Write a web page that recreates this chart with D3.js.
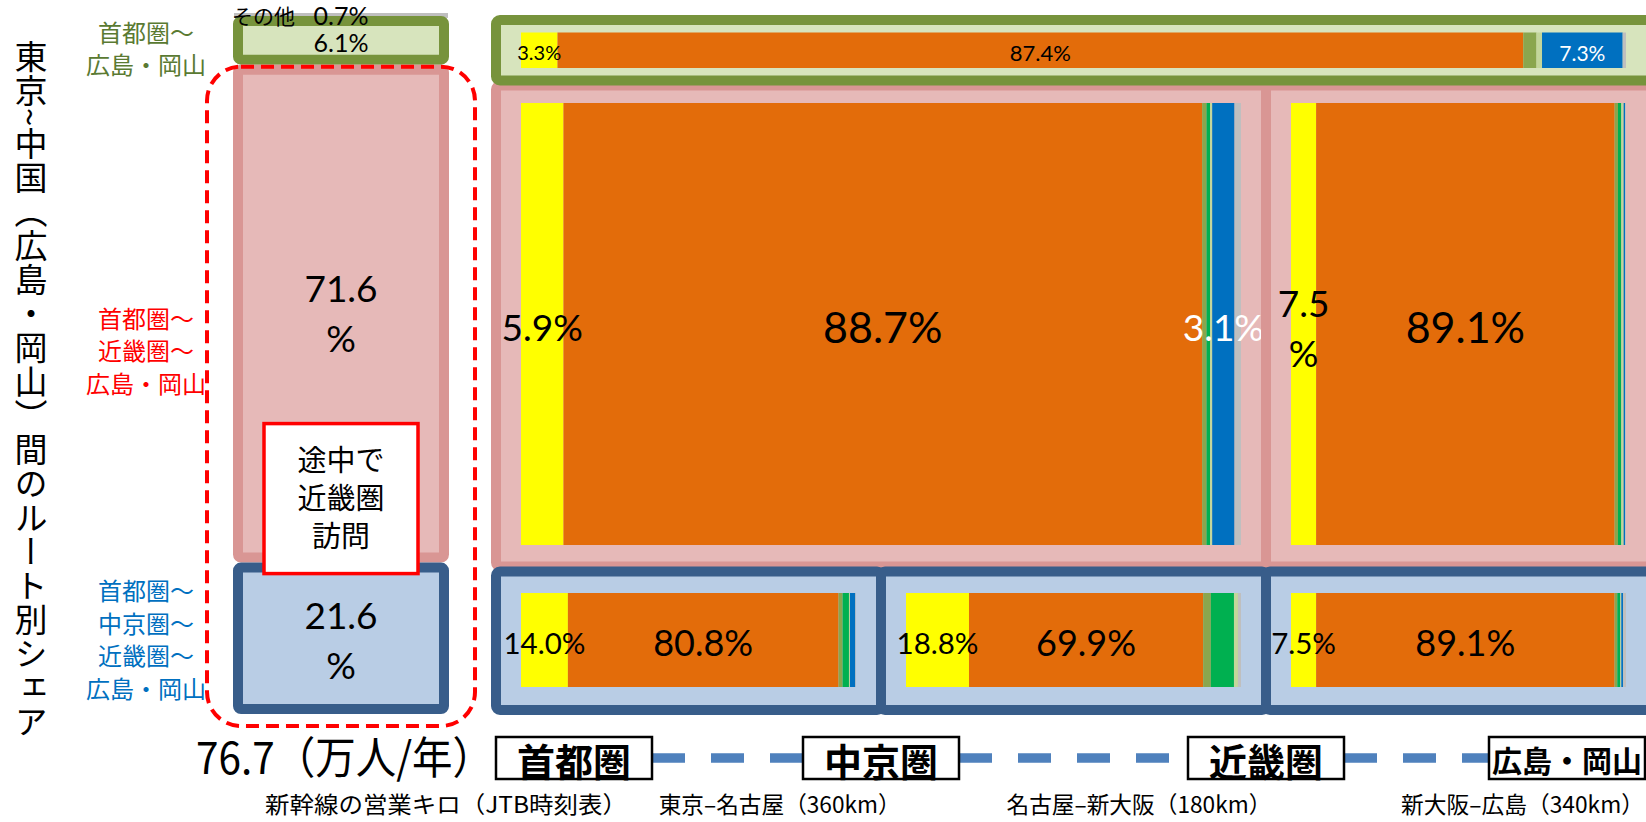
<!DOCTYPE html>
<html><head><meta charset="utf-8">
<script src="https://cdn.jsdelivr.net/npm/d3@7"></script>
<style>body{margin:0;background:#fff} svg{display:block}</style>
</head><body><svg id="c" width="1646" height="822"></svg>
<script>
// ---------------- data ----------------
const modeKeys = ["A","B","C","D","E","F","G"];           // transport modes (stack order)
const routeNames = [["首都圏～","広島・岡山"],["首都圏～","近畿圏～","広島・岡山"],["首都圏～","中京圏～","近畿圏～","広島・岡山"]];
const routeShares = [6.1, 71.6, 21.6];                     // % of trips by route
const otherShare = 0.7;                                    // その他
const otherLabel = "その他";
const totalTrips = "76.7（万人/年）";
const regionNames = ["首都圏","中京圏","近畿圏","広島・岡山"];
const legLabels = ["東京‒名古屋（360km）","名古屋‒新大阪（180km）","新大阪‒広島（340km）"];
const legNote = "新幹線の営業キロ（JTB時刻表）";
const viaNote = ["途中で","近畿圏","訪問"];
const titleText = "東京~中国（広島・岡山）間のルート別シェア";
// mode shares (%) of each route leg
const directShares  = [3.3, 87.4, 1.2, 0.0, 0.5, 7.3, 0.3];
const viaKinkiLeg1  = [5.9, 88.7, 0.6, 0.5, 0.3, 3.1, 0.9];
const viaKinkiLeg2  = [7.5, 89.1, 1.0, 1.0, 0.7, 0.4, 0.3];
const viaChukyoLeg1 = [14.0, 80.8, 1.2, 1.9, 0.3, 1.6, 0.2];
const viaChukyoLeg2 = [18.8, 69.9, 2.3, 6.9, 1.2, 0.0, 0.9];
const viaChukyoLeg3 = [7.5, 89.1, 0.8, 0.9, 0.3, 0.5, 0.9];

// ---------------- setup ----------------
const W = 1646, H = 822;
const svg = d3.select("#c");
const JP = "'Noto Sans CJK JP', sans-serif";
const NUM = "Lato, 'Noto Sans CJK JP', sans-serif";
const modeColor = d3.scaleOrdinal(modeKeys, ["#FFFF00","#E36C0A","#8AA64E","#00B050","#C3D69B","#0070C0","#BFBFBF"]);
const routeFill = d3.scaleOrdinal([0,1,2], ["#D7E4BD","#E6B9B8","#B9CDE5"]);
const routeStroke = d3.scaleOrdinal([0,1,2], ["#77933C","#D99694","#385D8A"]);
const routeText = d3.scaleOrdinal([0,1,2], ["#5A7A32","#FF0000","#0070C0"]);
const pct = v => d3.format(".1f")(v) + "%";

// ---------------- left stacked column ----------------
const colX0 = 233, colX1 = 449, colCx = (colX0 + colX1) / 2;
const yL = d3.scaleLinear([0, 100], [13, 714]);
const stackVals = [otherShare, ...routeShares];
const cum = d3.cumsum(stackVals);
const segs = stackVals.map((v, i) => ({v, i, y0: yL(cum[i] - v), y1: yL(cum[i])}));

// gray "other"
svg.append("rect").attr("x", colX0 + 1).attr("width", colX1 - colX0 - 2)
  .attr("y", segs[0].y0).attr("height", segs[0].y1 - segs[0].y0).attr("fill", modeColor("G"));

const routeSegs = segs.slice(1).map((s, r) => ({...s, r}));
// the thin top segment is drawn slightly enlarged, as in the source figure
const grow = [[-2, 4], [4, 0], [0, 0]];
svg.append("g").selectAll("rect").data(routeSegs).join("rect")
  .attr("x", colX0 + 5).attr("width", colX1 - colX0 - 10)
  .attr("y", d => d.y0 + 5 + grow[d.r][0]).attr("height", d => d.y1 - d.y0 - 10 - grow[d.r][0] + grow[d.r][1])
  .attr("rx", 3)
  .attr("fill", d => routeFill(d.r)).attr("stroke", d => routeStroke(d.r)).attr("stroke-width", 10);

// white box "途中で近畿圏訪問"
const pinkSeg = routeSegs[1], blueSeg = routeSegs[2];
svg.append("rect").attr("x", colCx - 77).attr("width", 154)
  .attr("y", blueSeg.y0 - 139).attr("height", 150)
  .attr("fill", "#fff").attr("stroke", "#FF0000").attr("stroke-width", 3.5);
svg.append("g").selectAll("text").data(viaNote).join("text")
  .attr("x", colCx).attr("y", (d, i) => blueSeg.y0 - 105 + i * 38)
  .attr("text-anchor", "middle").attr("dominant-baseline", "central")
  .attr("font-family", JP).attr("font-size", 29).attr("fill", "#000").text(d => d);

// red dashed rounded outline
svg.append("rect").attr("x", colX0 - 26).attr("width", colX1 - colX0 + 52)
  .attr("y", pinkSeg.y0 + 6).attr("height", yL(100) + 12 - pinkSeg.y0 - 6)
  .attr("rx", 34).attr("fill", "none").attr("stroke", "#FF0000")
  .attr("stroke-width", 4).attr("stroke-dasharray", "13 7");

// column value labels
svg.append("text").attr("x", colX0 - 1).attr("y", segs[0].y0 + 2)
  .attr("dominant-baseline", "central").attr("font-family", JP).attr("font-size", 21).text(otherLabel);
svg.append("text").attr("x", colCx).attr("y", segs[0].y0 + 2)
  .attr("text-anchor", "middle").attr("dominant-baseline", "central")
  .attr("font-family", NUM).attr("font-size", 25).text(pct(otherShare));
svg.append("text").attr("x", colCx).attr("y", (routeSegs[0].y0 + routeSegs[0].y1) / 2 + 3)
  .attr("text-anchor", "middle").attr("dominant-baseline", "central")
  .attr("font-family", NUM).attr("font-size", 25).text(pct(routeShares[0]));
[pinkSeg, blueSeg].forEach(s => {
  const mid = (s.y0 + s.y1) / 2;
  const g = svg.append("g").attr("font-family", NUM).attr("font-size", 37).attr("text-anchor", "middle");
  g.append("text").attr("x", colCx).attr("y", mid - 24).attr("dominant-baseline", "central").text(d3.format(".1f")(s.v));
  g.append("text").attr("x", colCx).attr("y", mid + 26).attr("dominant-baseline", "central").text("%");
});

// route labels (left)
const labelOffsets = [8, 38, 0];
routeSegs.forEach(s => {
  const lines = routeNames[s.r];
  const mid = (s.y0 + s.y1) / 2 + labelOffsets[s.r];
  svg.append("g").selectAll("text").data(lines).join("text")
    .attr("x", 146).attr("y", (d, i) => mid + (i - (lines.length - 1) / 2) * 32.5)
    .attr("text-anchor", "middle").attr("dominant-baseline", "central")
    .attr("font-family", JP).attr("font-size", 24).attr("fill", routeText(s.r)).text(d => d);
});

// vertical title
svg.append("text").attr("x", 31).attr("y", 40)
  .attr("style", "writing-mode: vertical-rl; text-orientation: mixed; letter-spacing: 1px;")
  .attr("font-family", JP).attr("font-size", 33).attr("fill", "#000").text(titleText);

// ---------------- right mosaic ----------------
const xLeg = d3.scaleLinear([0, 3], [496, 1651]);
const yRow = d3.scaleLinear([0, 1, 2, 3], [20, 83, 569, 710]);
const rowPad = [[12.5, 12.5], [17.5, 21.5], [21.5, 23]];
const cells = [
  {route: 1, from: 0, to: 2, values: viaKinkiLeg1},
  {route: 1, from: 2, to: 3, values: viaKinkiLeg2},
  {route: 0, from: 0, to: 3, values: directShares},
  {route: 2, from: 0, to: 1, values: viaChukyoLeg1},
  {route: 2, from: 1, to: 2, values: viaChukyoLeg2},
  {route: 2, from: 2, to: 3, values: viaChukyoLeg3},
];
const labelSize = [[20, 22, 21], [37, 43, 37], [29.5, 36, 29.5]];

cells.forEach(c => {
  const x0 = xLeg(c.from), x1 = xLeg(c.to);
  const y0 = yRow(c.route) + (c.route ? 2.5 : 0), y1 = yRow(c.route + 1) - (c.route < 2 ? 2.5 : 0);
  const g = svg.append("g");
  g.append("rect").attr("x", x0).attr("y", y0).attr("width", x1 - x0).attr("height", y1 - y0)
    .attr("rx", 4).attr("fill", routeFill(c.route)).attr("stroke", routeStroke(c.route)).attr("stroke-width", 10);
  const bx = d3.scaleLinear([0, 100], [x0 + 25, x1 - 25]);
  const by0 = y0 + rowPad[c.route][0], by1 = y1 - rowPad[c.route][1];
  const cs = d3.cumsum(c.values);
  const bars = c.values.map((v, i) => ({key: modeKeys[i], v, i, a: cs[i] - v, b: cs[i]}));
  g.append("g").selectAll("rect").data(bars.filter(d => d.v > 0)).join("rect")
    .attr("x", d => bx(d.a)).attr("width", d => bx(d.b) - bx(d.a))
    .attr("y", by0).attr("height", by1 - by0).attr("fill", d => modeColor(d.key));
  const mid = (by0 + by1) / 2;
  const lab = bars.filter(d => d.i < 2 || (d.i === 5 && d.v >= 3));
  lab.forEach(d => {
    const cx = (bx(d.a) + bx(d.b)) / 2;
    const fs = labelSize[c.route][d.i === 5 ? 2 : d.i];
    const fill = d.i === 5 ? "#fff" : "#000";
    const narrow = d.i === 0 && (bx(d.b) - bx(d.a)) < 30 && c.route === 1;
    if (narrow) {
      g.append("text").attr("x", cx).attr("y", mid - 22).attr("text-anchor", "middle").attr("dominant-baseline", "central")
        .attr("font-family", NUM).attr("font-size", fs).attr("fill", fill).text(d3.format(".1f")(d.v));
      g.append("text").attr("x", cx).attr("y", mid + 28).attr("text-anchor", "middle").attr("dominant-baseline", "central")
        .attr("font-family", NUM).attr("font-size", fs).attr("fill", fill).text("%");
    } else {
      g.append("text").attr("x", cx).attr("y", mid + 2).attr("text-anchor", "middle").attr("dominant-baseline", "central")
        .attr("font-family", NUM).attr("font-size", fs).attr("fill", fill).text(pct(d.v));
    }
  });
});

// ---------------- bottom axis: regions & distances ----------------
const axY = 758, boxW = 156, boxH = 42;
const boxX = regionNames.map((r, i) => i === 0 ? xLeg(0) : i === 3 ? xLeg(3) - 6 - boxW : xLeg(i) - boxW / 2);
// dashed connectors
for (let i = 0; i < 3; i++) {
  svg.append("line").attr("x1", boxX[i] + boxW).attr("x2", boxX[i + 1]).attr("y1", axY).attr("y2", axY)
    .attr("stroke", "#4F81BD").attr("stroke-width", 9.5).attr("stroke-dasharray", "33 26");
}
regionNames.forEach((r, i) => {
  svg.append("rect").attr("x", boxX[i]).attr("y", axY - boxH / 2).attr("width", boxW).attr("height", boxH)
    .attr("fill", "#fff").attr("stroke", "#000").attr("stroke-width", 2.5);
  svg.append("text").attr("x", boxX[i] + boxW / 2).attr("y", axY + 1).attr("text-anchor", "middle")
    .attr("dominant-baseline", "central").attr("font-family", JP).attr("font-weight", "bold")
    .attr("font-size", i === 3 ? 30 : 38).attr("fill", "#000").text(r);
});
svg.append("text").attr("x", 196).attr("y", 774).attr("font-family", JP).attr("font-size", 44)
  .attr("textLength", 297).attr("lengthAdjust", "spacingAndGlyphs").text(totalTrips);
const by = 813;
svg.append("text").attr("x", colX0 + 32).attr("y", by).attr("font-family", JP).attr("font-size", 23)
  .attr("textLength", 362).attr("lengthAdjust", "spacingAndGlyphs").text(legNote);
const legW = [242, 265, 243];
legLabels.forEach((t, i) => {
  const c0 = boxX[i] + boxW / 2, c1 = boxX[i + 1] + boxW / 2;
  let cx = c0 + (c1 - c0) * 0.67;
  if (i === 2) cx = W - 2 - legW[i] / 2;
  svg.append("text").attr("x", cx - legW[i] / 2).attr("y", by).attr("font-family", JP).attr("font-size", 23)
    .attr("textLength", legW[i]).attr("lengthAdjust", "spacingAndGlyphs").text(t);
});
</script>
</body></html>
